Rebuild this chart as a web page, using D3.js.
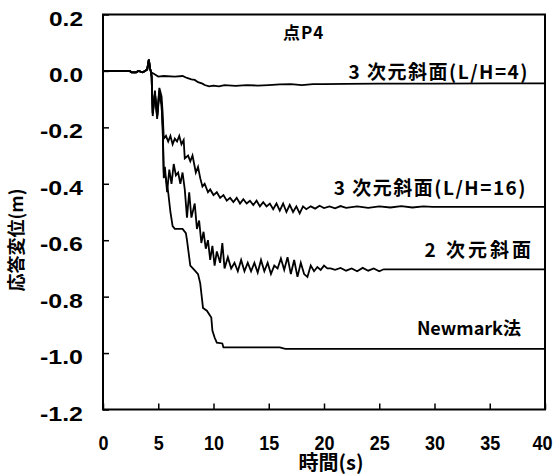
<!DOCTYPE html>
<html>
<head>
<meta charset="utf-8">
<script src="https://cdn.jsdelivr.net/npm/d3@7"></script>
<style>
  body { margin: 0; background: #fff; }
  svg text { font-family: "Liberation Sans", "Noto Sans CJK JP", sans-serif; font-weight: bold; fill: #000; }
  .cjk { font-family: "Noto Sans CJK JP", sans-serif; }
</style>
</head>
<body>
<svg id="chart" width="556" height="476"></svg>
<script>
// ---- data ----
const xTicks = [0, 5, 10, 15, 20, 25, 30, 35, 40]
const yTicks = [0.2, 0.0, -0.2, -0.4, -0.6, -0.8, -1.0, -1.2]
const yTickLabels = ["0.2", "0.0", "-0.2", "-0.4", "-0.6", "-0.8", "-1.0", "-1.2"]

// shared start of all four records
const tStart = [0, 1, 2, 2.4, 2.6, 3.0, 3.2, 3.6, 3.8, 4.0, 4.15, 4.25, 4.35]
const vStart = [0, 0, 0, 0, -0.005, -0.005, 0, -0.005, 0, 0.005, 0.04, 0.01, -0.005]

const tL4 = [4.6, 5.0, 5.5, 6.5, 7.2, 7.6, 8.0, 8.3, 8.6, 9.0, 9.2, 9.6, 10.0, 10.5, 11, 12, 13, 14, 15, 16, 17, 18, 19, 20, 22, 25, 30, 35, 40]
const vL4 = [-0.01, -0.02, -0.018, -0.02, -0.018, -0.025, -0.03, -0.032, -0.04, -0.045, -0.05, -0.055, -0.052, -0.055, -0.05, -0.053, -0.05, -0.052, -0.05, -0.048, -0.047, -0.05, -0.047, -0.047, -0.046, -0.045, -0.045, -0.044, -0.044]

const tL16 = [4.4, 4.5, 4.7, 4.9, 5.1, 5.3, 5.4, 5.5, 5.7, 5.9, 6.1, 6.3, 6.5, 6.7, 6.9, 7.1, 7.3, 7.4, 7.7, 7.9, 8.1, 8.4, 8.6, 8.8, 9.0, 9.2, 9.5, 9.7, 10.0, 10.3, 10.6, 10.9, 11.2, 11.5, 11.8, 12.1, 12.4, 12.7, 13.0, 13.3, 13.6, 13.9, 14.2, 14.5, 14.8, 15.1, 15.4, 15.7, 16.0, 16.3, 16.6, 16.9, 17.2, 17.5, 17.8, 18.1, 18.4, 18.8, 19.2, 19.6, 20, 20.5, 21, 21.5, 22, 23, 24, 25, 26, 27, 28, 29, 29.8, 30, 40]
const vL16 = [-0.02, -0.15, -0.08, -0.16, -0.06, -0.09, -0.15, -0.24, -0.23, -0.25, -0.23, -0.26, -0.24, -0.25, -0.23, -0.26, -0.245, -0.31, -0.30, -0.32, -0.30, -0.36, -0.34, -0.38, -0.41, -0.40, -0.43, -0.42, -0.44, -0.43, -0.45, -0.44, -0.46, -0.45, -0.465, -0.45, -0.47, -0.455, -0.47, -0.46, -0.475, -0.46, -0.48, -0.465, -0.48, -0.47, -0.49, -0.47, -0.495, -0.47, -0.5, -0.475, -0.5, -0.48, -0.505, -0.48, -0.49, -0.48, -0.488, -0.478, -0.486, -0.48, -0.487, -0.479, -0.485, -0.48, -0.485, -0.48, -0.484, -0.479, -0.484, -0.48, -0.482, -0.482, -0.482]

const t2D = [4.4, 4.5, 4.7, 4.9, 5.1, 5.3, 5.4, 5.5, 5.6, 5.8, 6.0, 6.2, 6.4, 6.6, 6.8, 7.0, 7.2, 7.4, 7.6, 7.8, 8.0, 8.3, 8.5, 8.7, 8.9, 9.1, 9.3, 9.5, 9.7, 9.9, 10.1, 10.3, 10.6, 10.8, 11.0, 11.3, 11.6, 11.9, 12.2, 12.5, 12.8, 13.1, 13.4, 13.7, 14.0, 14.3, 14.6, 14.9, 15.2, 15.5, 15.8, 16.1, 16.4, 16.7, 17.0, 17.3, 17.6, 17.9, 18.2, 18.5, 18.8, 19.1, 19.4, 19.7, 20.0, 20.3, 20.6, 21, 21.5, 22, 22.5, 23, 23.5, 24, 24.5, 25, 25.4, 40]
const v2D = [-0.02, -0.16, -0.07, -0.17, -0.08, -0.12, -0.2, -0.38, -0.34, -0.43, -0.35, -0.40, -0.33, -0.37, -0.36, -0.40, -0.36, -0.42, -0.52, -0.43, -0.52, -0.47, -0.56, -0.53, -0.61, -0.57, -0.63, -0.60, -0.67, -0.62, -0.69, -0.64, -0.68, -0.61, -0.70, -0.66, -0.70, -0.68, -0.71, -0.67, -0.71, -0.68, -0.71, -0.68, -0.715, -0.67, -0.71, -0.68, -0.72, -0.69, -0.70, -0.665, -0.705, -0.66, -0.72, -0.67, -0.73, -0.68, -0.72, -0.73, -0.69, -0.71, -0.695, -0.705, -0.69, -0.70, -0.70, -0.705, -0.698, -0.708, -0.70, -0.71, -0.698, -0.708, -0.70, -0.71, -0.703, -0.703]

const tNM = [4.4, 4.5, 4.7, 4.9, 5.1, 5.3, 5.4, 5.5, 5.7, 5.9, 6.1, 6.3, 6.5, 7.2, 7.5, 7.6, 7.9, 8.3, 8.6, 8.8, 9.05, 9.4, 9.8, 9.9, 10.1, 10.3, 10.8, 10.9, 16, 16.5, 40]
const vNM = [-0.02, -0.15, -0.08, -0.16, -0.07, -0.12, -0.2, -0.36, -0.38, -0.43, -0.5, -0.55, -0.56, -0.56, -0.575, -0.6, -0.69, -0.707, -0.72, -0.753, -0.84, -0.85, -0.874, -0.92, -0.945, -0.963, -0.966, -0.98, -0.98, -0.985, -0.985]

// ---- layout ----
const svg = d3.select("#chart")
const LEFT = 103, RIGHT = 545, TOP = 14.5, BOTTOM = 409.5

var x = d3.scaleLinear().domain([0, 40]).range([LEFT, RIGHT])
var y = d3.scaleLinear().domain([-1.2, 0.2]).range([BOTTOM, TOP])

// build point lists
function pts(t, v) {
    var all = tStart.map((d, i) => [d, vStart[i]])
    return all.concat(t.map((d, i) => [d, v[i]]))
}
var line = d3.line().x(d => x(d[0])).y(d => y(d[1]))

var series = [pts(tL4, vL4), pts(tL16, vL16), pts(t2D, v2D), pts(tNM, vNM)]
svg.append("g").selectAll("path").data(series).enter().append("path")
    .attr("d", line)
    .attr("fill", "none")
    .attr("stroke", "#000")
    .attr("stroke-width", 1.8)
    .attr("stroke-linejoin", "miter")

// y axis (inward ticks, labels left) - narrow tall digits
var yAxis = svg.append("g")
    .attr("transform", "translate(" + LEFT + ",0)")
    .call(d3.axisLeft(y).tickValues(yTicks).tickSize(-6).tickPadding(20)
        .tickFormat((d, i) => yTickLabels[i]))
yAxis.select(".domain").remove()
yAxis.selectAll("line").attr("stroke-width", 1.5)
yAxis.selectAll("text")
    .attr("font-size", 21)
    .attr("dy", "0.5em")
    .attr("lengthAdjust", "spacingAndGlyphs")
    .attr("textLength", (d, i) => yTickLabels[i].length > 3 ? 43 : 34)

// x axis (inward ticks)
var xAxis = svg.append("g")
    .attr("transform", "translate(0," + BOTTOM + ")")
    .call(d3.axisBottom(x).tickValues(xTicks).tickSize(-6).tickPadding(26))
xAxis.select(".domain").remove()
xAxis.selectAll("line").attr("stroke-width", 1.5)
xAxis.selectAll("text")
    .attr("font-size", 21)
    .attr("lengthAdjust", "spacingAndGlyphs")
    .attr("textLength", d => String(d).length * 10)
// last label sits a little left of its tick, as in the original
xAxis.selectAll(".tick text").filter(d => d === 40).attr("dx", -3)

// frame
svg.append("rect")
    .attr("x", LEFT).attr("y", TOP)
    .attr("width", RIGHT - LEFT).attr("height", BOTTOM - TOP)
    .attr("fill", "none").attr("stroke", "#000").attr("stroke-width", 2)

// annotations
const labels = [
    {text: "点P4", x: 283, y: 39, size: 17, ls: 1, anchor: "start"},
    {text: "3 次元斜面(L/H=4)", x: 529, y: 79, size: 19, ls: 1.5, anchor: "end"},
    {text: "3 次元斜面(L/H=16)", x: 527, y: 195, size: 19, ls: 1.5, anchor: "end"},
    {text: "2 次元斜面", x: 534, y: 257, size: 19, ls: 3, anchor: "end"},
    {text: "Newmark法", x: 521, y: 335, size: 18, ls: 0, anchor: "end"}
]
svg.append("g").selectAll("text").data(labels).enter().append("text")
    .attr("class", "cjk")
    .attr("x", d => d.x).attr("y", d => d.y)
    .attr("text-anchor", d => d.anchor)
    .attr("font-size", d => d.size)
    .style("letter-spacing", d => d.ls + "px")
    .text(d => d.text)

// axis titles
svg.append("text")
    .attr("class", "cjk")
    .attr("x", 331).attr("y", 470)
    .attr("text-anchor", "middle")
    .attr("font-size", 20)
    .text("時間(s)")

svg.append("text")
    .attr("class", "cjk")
    .attr("transform", "translate(23,240) rotate(-90)")
    .attr("text-anchor", "middle")
    .attr("font-size", 18)
    .text("応答変位(m)")
</script>
</body>
</html>
